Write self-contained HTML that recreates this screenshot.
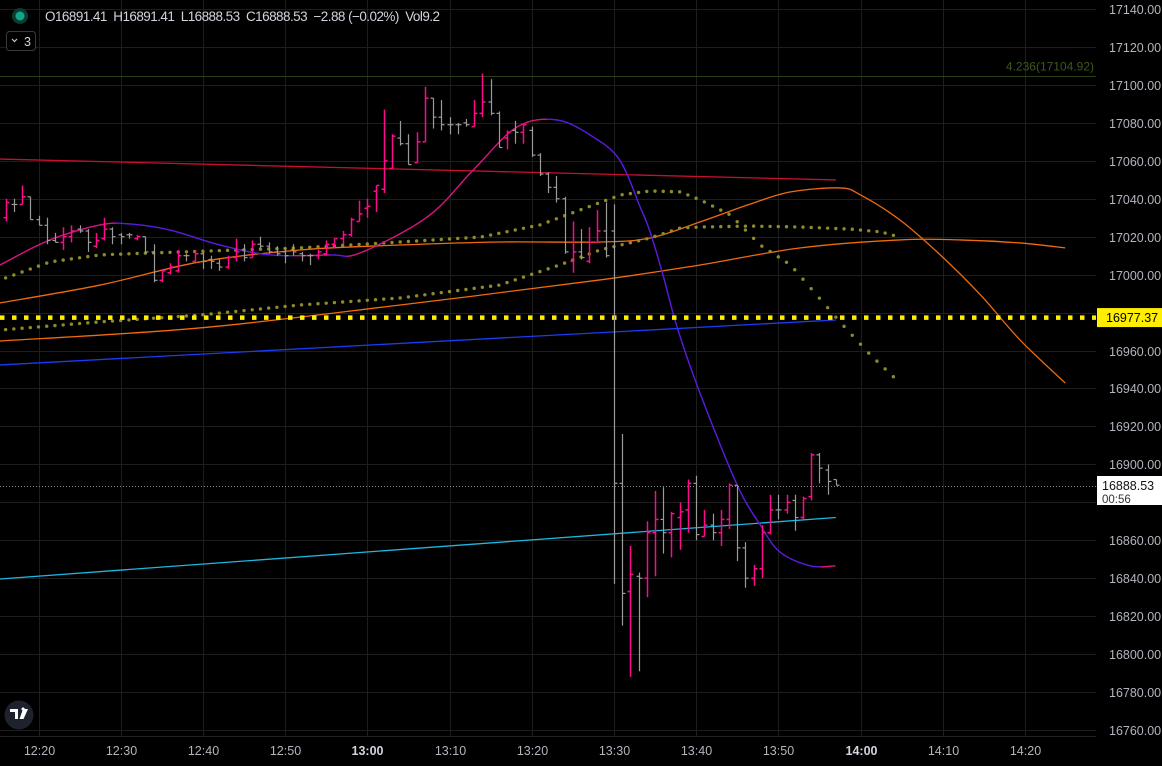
<!DOCTYPE html>
<html><head><meta charset="utf-8">
<style>
html,body{margin:0;padding:0;background:#000;overflow:hidden}
body{width:1162px;height:766px;position:relative;font-family:"Liberation Sans",sans-serif}
svg{position:absolute;left:0;top:0}
text{font-family:"Liberation Sans",sans-serif}
</style></head>
<body>
<svg id="chart" width="1162" height="766">
  <g id="grid"></g>
  <g id="inds"></g>
  <g id="bars"></g>
  <g id="axis"></g>
  <g id="topg"></g>
</svg>
<script>
// ---- data ----
const opens=[17030,17037,17037,17041,17029,17026,17018,17017,17020,17024,17023,17015,17019,17024,17021,17021,17019,17020,17012,16997,17001,17002,17010,17007,17011,17008,17006,17004,17009,17013,17009,17016,17015,17012,17012,17013,17011,17010,17010,17011,17016,17019,17021,17028,17035,17044,17045,17056,17072,17069,17059,17070,17093,17083,17079,17079,17080,17078,17085,17091,17085,17072,17076,17075,17076,17063,17053,17046,17040,17007,17012,17007,17017,17023,17023,16890,16833,16841,16840,16864,16871,16864,16872,16876,16890,16862,16868,16864,16871,16889,16856,16840,16845,16864,16876,16876,16881,16872,16883,16905,16897,16892];
const highs=[17040,17040,17047,17041,17031,17030,17022,17025,17026,17026,17024,17022,17030,17025,17022,17022,17021,17020,17016,17003,17006,17013,17011,17013,17012,17010,17008,17010,17019,17016,17018,17020,17017,17015,17014,17016,17012,17011,17013,17018,17019,17023,17030,17039,17040,17047,17087,17074,17081,17074,17075,17099,17093,17092,17083,17080,17082,17092,17106,17103,17086,17076,17081,17079,17078,17064,17054,17052,17041,17028,17024,17025,17034,17038,17037,16916,16857,16843,16870,16886,16888,16875,16880,16892,16894,16876,16874,16876,16890,16889,16859,16847,16868,16884,16884,16884,16884,16883,16906,16906,16900,16892];
const lows=[17028,17033,17037,17029,17026,17016,17017,17013,17017,17022,17012,17014,17018,17016,17016,17019,17018,17011,16996,16996,17000,17001,17007,17007,17003,17003,17002,17003,17007,17007,17009,17014,17011,17010,17006,17010,17007,17005,17008,17010,17014,17016,17020,17028,17030,17033,17043,17056,17068,17058,17059,17070,17077,17076,17074,17074,17078,17078,17083,17084,17067,17066,17069,17069,17062,17052,17043,17038,17011,17001,17008,17006,17017,17009,16837,16815,16788,16791,16830,16841,16853,16851,16855,16864,16860,16862,16860,16857,16866,16849,16835,16836,16840,16863,16871,16874,16865,16871,16881,16890,16884,16889];
const closes=[17038,17037,17041,17029,17026,17018,17017,17020,17023,17023,17017,17018,17024,17020,17020,17021,17020,17012,16997,17002,17004,17010,17010,17011,17007,17007,17004,17009,17012,17009,17016,17015,17012,17011,17010,17012,17010,17010,17012,17016,17019,17021,17029,17032,17036,17047,17060,17073,17069,17058,17070,17093,17083,17079,17079,17079,17079,17085,17091,17085,17067,17075,17075,17079,17063,17053,17046,17040,17012,17012,17009,17017,17023,17010,16890,16832,16842,16840,16864,16871,16864,16874,16875,16890,16863,16868,16864,16871,16889,16856,16840,16845,16864,16876,16876,16880,16872,16882,16905,16898,16891,16889];
const maKnots=[[-0.68,17005.1],[5.4,17018.3],[11.5,17026.2],[15.1,17026.7],[20,17023.5],[26.1,17015.6],[32.2,17010.4],[39.5,17010.4],[43.1,17011.4],[51.3,17030.4],[56.9,17055.2],[62.2,17077.8],[67.1,17081.5],[71.5,17072.5],[74.7,17060.4],[77.2,17035.6],[78.4,17022.5],[79.9,17000.9],[81.8,16970.8],[84.7,16935],[89,16889.1],[91.8,16868.1],[94.2,16853.8],[97.9,16846.5],[100.9,16846.5]];
const orangeA=[[-0.68,16985.1],[11.5,16994.5],[23.6,17006.7],[35.8,17013],[48,17015.6],[60.1,17017.2],[72.3,17017.2],[78.4,17019.3],[84.5,17027.8],[90.6,17037.2],[95.5,17043.6],[101.5,17045.7],[104,17042],[108.8,17028.8],[113.7,17010.4],[118.6,16989.3],[123.4,16965.6],[128.9,16942.9]];
const orangeB=[[-0.68,16965],[23.6,16971.9],[48,16984],[72.3,16997.2],[84.5,17005.1],[96.7,17014.1],[108.8,17018.3],[116.1,17018.3],[123.4,17016.7],[128.9,17014.1]];
const dotsA=[[-0.68,16997.2],[5.4,17006.7],[11.5,17010.4],[17.6,17011.4],[35.8,17014.1],[48,17017.2],[57.8,17019.8],[65,17026.2],[69.9,17034.1],[74.8,17042],[78.4,17044.1],[82.1,17043.6],[84.5,17039.4],[88.2,17031.4],[91.8,17015.6],[95.5,17005.1],[99.2,16986.6],[101.5,16975.1],[105.2,16957.7],[108.8,16942.9]];
const dotsB=[[-0.68,16970.8],[11.5,16975.1],[23.6,16978.7],[35.8,16984],[48,16987.7],[60.1,16994.5],[67.4,17005.1],[72.3,17013],[78.4,17019.3],[82.1,17024.6],[84.5,17025.1],[90.6,17025.6],[96.7,17025.1],[102.8,17024],[106.5,17022.5],[108.8,17019.8]];
const redLine=[[-0.68,17060.9],[101,17049.9]];
const blueLine=[[-0.68,16952.4],[101,16976.1]];
const cyanLine=[[-0.68,16839.6],[101,16872]];
const priceTicks=[17140,17120,17100,17080,17060,17040,17020,17000,16980,16960,16940,16920,16900,16880,16860,16840,16820,16800,16780,16760];
const timeTicks=["12:20","12:30","12:40","12:50","13:00","13:10","13:20","13:30","13:40","13:50","14:00","14:10","14:20"];
const timeTickIdx=[4,14,24,34,44,54,64,74,84,94,104,114,124];
const levelPrice=16977.37, fibPrice=17104.92, lastPrice=16888.53;

const X=i=>38.5+(i-4)*8.22;
const Y=p=>9+(17140-p)*1.8974;
const NS='http://www.w3.org/2000/svg';
function mk(tag,parent,attrs){const e=document.createElementNS(NS,tag);for(const k in attrs)e.setAttribute(k,attrs[k]);parent.appendChild(e);return e;}
const grid=document.getElementById('grid'),inds=document.getElementById('inds'),bars=document.getElementById('bars'),axis=document.getElementById('axis'),topG=document.getElementById('topg');
const ly=Y(levelPrice);
const lpy=Math.round(Y(lastPrice))+0.5;

priceTicks.forEach(p=>{
  const y=Math.round(Y(p))+0.5;
  const l=mk('line',grid,{x1:0,x2:1096,y1:y,y2:y,stroke:'#1d1d1d','stroke-width':1});
  
  
  if(Math.abs(y-ly)<16 || (y>468 && y<512)) return;
  const t=mk('text',axis,{x:1109,y:y+4.5,fill:'#b2b5be','font-size':12.5});
  t.textContent=p.toFixed(2);
  
  
});
timeTicks.forEach((s,k)=>{
  const x=Math.round(X(timeTickIdx[k]))+0.5;
  const l=mk('line',grid,{x1:x,x2:x,y1:0,y2:736,stroke:'#1d1d1d','stroke-width':1});
  
  
  const bold=(s==='13:00'||s==='14:00');
  const t=mk('text',axis,{x:x,y:755,fill:bold?'#d1d4dc':'#b2b5be','font-size':12.5,'text-anchor':'middle','font-weight':bold?'bold':'normal'});
  t.textContent=s;
  
  
});

function smooth(pts){
  const P=pts.map(q=>[X(q[0]),Y(q[1])]);let d='M'+P[0][0]+','+P[0][1];
  for(let i=0;i<P.length-1;i++){const p0=P[i-1]||P[i],p1=P[i],p2=P[i+1],p3=P[i+2]||p2;
    d+=' C'+(p1[0]+(p2[0]-p0[0])/6)+','+(p1[1]+(p2[1]-p0[1])/6)+' '+(p2[0]-(p3[0]-p1[0])/6)+','+(p2[1]-(p3[1]-p1[1])/6)+' '+p2[0]+','+p2[1];}
  return d;
}
function sampleSmooth(pts,n){
  const P=pts.map(q=>[X(q[0]),Y(q[1])]);const out=[];
  for(let i=0;i<P.length-1;i++){const p0=P[i-1]||P[i],p1=P[i],p2=P[i+1],p3=P[i+2]||p2;
    for(let s=0;s<n;s++){const t=s/n,t2=t*t,t3=t2*t;
      const f=k=>0.5*((2*p1[k])+(-p0[k]+p2[k])*t+(2*p0[k]-5*p1[k]+4*p2[k]-p3[k])*t2+(-p0[k]+3*p1[k]-3*p2[k]+p3[k])*t3);
      out.push([f(0),f(1)]);}}
  out.push(P[P.length-1]);return out;
}
function interp(pts,i){for(let k=0;k<pts.length-1;k++){if(i>=pts[k][0]&&i<=pts[k+1][0]){const t=(i-pts[k][0])/(pts[k+1][0]-pts[k][0]);return pts[k][1]+t*(pts[k+1][1]-pts[k][1]);}}return null;}

const fy=Math.round(Y(fibPrice))+0.5;
const fl=mk('line',inds,{x1:0,x2:1096,y1:fy,y2:fy,stroke:'#2b3d12','stroke-width':1});


const ft=mk('text',inds,{x:1094,y:fy-6,fill:'#3c5a18','font-size':12,'text-anchor':'end'});
ft.textContent='4.236(17104.92)';



[[redLine,'#c8102e','red-trendline'],[blueLine,'#1b3cf0','blue-trendline'],[cyanLine,'#1fb6e0','cyan-trendline']].forEach(([pts,c,n])=>{
  const l=mk('line',inds,{x1:X(pts[0][0]),y1:Y(pts[0][1]),x2:X(pts[1][0]),y2:Y(pts[1][1]),stroke:c,'stroke-width':1.3});
  
  
});
[[orangeA,'orange-ma-upper'],[orangeB,'orange-ma-lower']].forEach(([pts,n])=>{
  const p=mk('path',inds,{d:smooth(pts),fill:'none',stroke:'#f06a0f','stroke-width':1.3});
  
  
});
[[dotsA,'olive-dots-upper'],[dotsB,'olive-dots-lower']].forEach(([pts,n])=>{
  const g=mk('g',inds,{});
  
  
  for(let i=Math.ceil(pts[0][0]);i<=pts[pts.length-1][0];i++){const v=interp(pts,i);if(v!==null)mk('circle',g,{cx:X(i),cy:Y(v),r:1.7,fill:'#8c8a2a'});}
});
const maG=mk('g',inds,{});


const maPts=sampleSmooth(maKnots,8);
for(let k=0;k<maPts.length-1;k++){
  const a=maPts[k],b=maPts[k+1];
  mk('line',maG,{x1:a[0],y1:a[1],x2:b[0],y2:b[1],stroke:b[1]<=a[1]?'#d4157f':'#5a1be0','stroke-width':1.4,'stroke-linecap':'round'});
}
const yl=mk('line',inds,{x1:0,x2:1096,y1:ly,y2:ly,stroke:'#ffee00','stroke-width':4.5,'stroke-dasharray':'4.5 7.5'});


const lp=mk('line',inds,{x1:0,x2:1096,y1:lpy,y2:lpy,stroke:'#8a8a8a','stroke-width':1,'stroke-dasharray':'1 2'});



for(let i=0;i<opens.length;i++){
  const up=closes[i]>opens[i];const c=up?'#ff0a8c':'#9a9a9a';
  const x=Math.round(X(i))+0.5;
  const g=mk('g',bars,{stroke:c,'stroke-width':up?1.5:1.2});
  
  
  mk('line',g,{x1:x,x2:x,y1:Y(highs[i]),y2:Y(lows[i])});
  mk('line',g,{x1:x-3,x2:x,y1:Y(opens[i]),y2:Y(opens[i])});
  mk('line',g,{x1:x,x2:x+3,y1:Y(closes[i]),y2:Y(closes[i])});
}

const lb=mk('rect',axis,{x:1097,y:ly-9.5,width:65,height:19,fill:'#ffee00'});


const lt=mk('text',axis,{x:1106,y:ly+4.5,fill:'#000','font-size':12.5});lt.textContent=levelPrice.toFixed(2);
const cb=mk('rect',axis,{x:1097,y:476,width:65,height:29,fill:'#fff'});


const ct=mk('text',axis,{x:1102,y:490,fill:'#111','font-size':12.5});ct.textContent=lastPrice.toFixed(2);
const ct2=mk('text',axis,{x:1102,y:503,fill:'#333','font-size':11.5});ct2.textContent='00:56';
const bl=mk('line',axis,{x1:0,x2:1096,y1:736.5,y2:736.5,stroke:'#222','stroke-width':1});



const ring=mk('circle',topG,{cx:20,cy:16,r:8,fill:'#0c3b33'});


mk('circle',topG,{cx:20,cy:16,r:4.5,fill:'#12a58a'});
const leg=mk('text',topG,{x:45,y:21,fill:'#d1d4dc','font-size':13.5,textLength:395,lengthAdjust:'spacing'});
leg.textContent='O16891.41  H16891.41  L16888.53  C16888.53  −2.88 (−0.02%)  Vol9.2';
leg.style.whiteSpace='pre';


const bx=mk('rect',topG,{x:6.5,y:31.5,width:29,height:19,rx:3,fill:'#000',stroke:'#3a3a3a'});


mk('path',topG,{d:'M12,39 L14.5,41.5 L17,39',fill:'none',stroke:'#c8c8c8','stroke-width':1.2});
const bt=mk('text',topG,{x:24,y:46,fill:'#d1d4dc','font-size':12.5});bt.textContent='3';
const logo=mk('circle',topG,{cx:19,cy:715,r:14.5,fill:'#1e222d'});


mk('path',topG,{d:'M10,709 h8 v10 h-3 v-7 h-5z M19,709 h2.5 a1.6,1.6 0 1 1 0,0.1z M23,709 h5 l-4.5,10 h-4z',fill:'#fff'});
</script>
</body></html>
